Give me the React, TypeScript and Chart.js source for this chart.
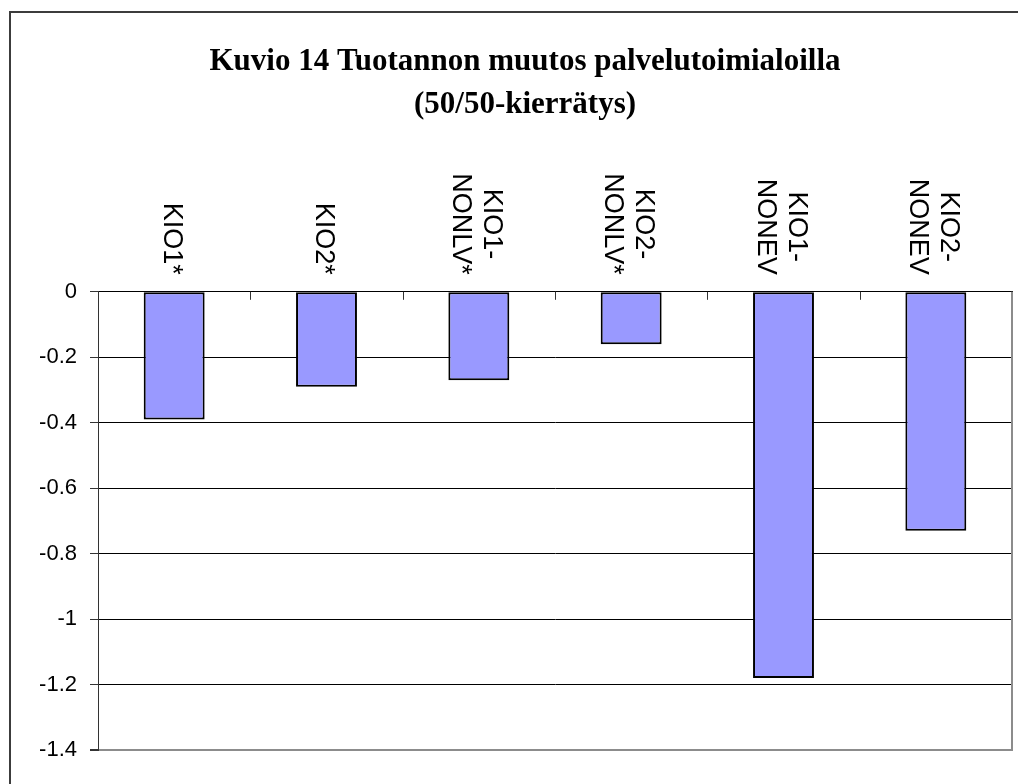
import React, { useEffect, useRef } from 'react';
import { Chart, registerables } from 'chart.js';

Chart.register(...registerables);

const categories: string[][] = [
  ['KIO1*'],
  ['KIO2*'],
  ['KIO1-', 'NONLV*'],
  ['KIO2-', 'NONLV*'],
  ['KIO1-', 'NONEV'],
  ['KIO2-', 'NONEV'],
];
const values: number[] = [-0.39, -0.29, -0.27, -0.16, -1.18, -0.73];
const yMin = -1.4;
const yMax = 0;
const yStep = 0.2;
const titleLines: string[] = ['Kuvio 14 Tuotannon muutos palvelutoimialoilla', '(50/50-kierrätys)'];

const SANS = '"Liberation Sans", Arial, sans-serif';
const SERIF = '"Liberation Serif", "Times New Roman", serif';

const decor = {
  id: 'decor',
  beforeDraw(chart: any) {
    const ctx = chart.ctx;
    ctx.save();
    ctx.fillStyle = '#ffffff';
    ctx.fillRect(0, 0, chart.width, chart.height);
    ctx.strokeStyle = '#3c3c3c';
    ctx.lineWidth = 2;
    ctx.beginPath();
    ctx.moveTo(10, chart.height);
    ctx.lineTo(10, 12);
    ctx.lineTo(chart.width, 12);
    ctx.stroke();
    ctx.restore();
  },
  afterDraw(chart: any) {
    const ctx = chart.ctx;
    const a = chart.chartArea;
    const x = chart.scales.x;
    ctx.save();
    // plot-area right border
    ctx.strokeStyle = '#8c8c8c';
    ctx.lineWidth = 2;
    ctx.beginPath();
    ctx.moveTo(a.right, a.top);
    ctx.lineTo(a.right, a.bottom + 1);
    ctx.stroke();
    // category tick marks (pointing down into the plot)
    ctx.strokeStyle = '#333';
    ctx.lineWidth = 1;
    const n = categories.length;
    const w = (x.right - x.left) / n;
    ctx.beginPath();
    for (let i = 1; i < n; i++) {
      const xx = Math.round(x.left + i * w) + 0.5;
      ctx.moveTo(xx, a.top);
      ctx.lineTo(xx, a.top + 8);
    }
    ctx.stroke();
    // category labels, rotated to read top-to-bottom
    ctx.font = '27px ' + SANS;
    ctx.fillStyle = '#000';
    ctx.textBaseline = 'middle';
    ctx.textAlign = 'center';
    categories.forEach((lines, i) => {
      const px = x.getPixelForValue(i);
      const maxW = Math.max(...lines.map((l) => ctx.measureText(l).width));
      ctx.save();
      ctx.translate(px, a.top - 17);
      ctx.rotate(Math.PI / 2);
      lines.forEach((l, j) => {
        ctx.fillText(l, -maxW / 2, (j - (lines.length - 1) / 2) * 31 + 3);
      });
      ctx.restore();
    });
    ctx.restore();
  },
};

export default function App() {
  const ref = useRef<HTMLCanvasElement | null>(null);

  useEffect(() => {
    if (!ref.current) return;
    const chart = new Chart(ref.current, {
      type: 'bar',
      data: {
        labels: categories,
        datasets: [
          {
            data: values,
            backgroundColor: '#9999ff',
            borderColor: '#000000',
            borderWidth: 2,
            borderSkipped: false,
            barPercentage: 0.4,
            categoryPercentage: 1,
          },
        ],
      },
      plugins: [decor],
      options: {
        animation: false,
        responsive: true,
        maintainAspectRatio: false,
        layout: { padding: { left: 38, top: 12, right: 6, bottom: 34 } },
        plugins: {
          legend: { display: false },
          tooltip: { enabled: false },
          title: {
            display: true,
            text: titleLines,
            color: '#000',
            font: { family: SERIF, size: 31, weight: 'bold', lineHeight: 1.4 },
            padding: { top: 28, bottom: 0 },
          },
        },
        scales: {
          x: {
            position: 'top',
            grid: { display: false },
            border: { display: true, color: '#000', width: 1 },
            ticks: { display: false },
            afterFit: (s: any) => {
              s.height = 165;
            },
          },
          y: {
            min: yMin,
            max: yMax,
            ticks: {
              stepSize: yStep,
              color: '#000',
              font: { family: SANS, size: 22 },
              padding: 13,
              callback: (v: any) => String(Math.round(Number(v) * 10) / 10),
            },
            grid: {
              color: (c: any) => (c.tick && Math.abs(c.tick.value - yMin) < 1e-6 ? '#8c8c8c' : '#000'),
              lineWidth: (c: any) => (c.tick && Math.abs(c.tick.value - yMin) < 1e-6 ? 2 : 1),
              tickColor: '#333',
              tickLength: 8,
            },
            border: { display: true, color: '#333', width: 1 },
            afterFit: (s: any) => {
              s.width = 60;
            },
          },
        },
      },
    });
    return () => chart.destroy();
  }, []);

  return (
    <div style={{ position: 'fixed', left: 0, top: 0, width: 1018, height: 784, background: '#fff' }}>
      <canvas ref={ref} />
    </div>
  );
}
